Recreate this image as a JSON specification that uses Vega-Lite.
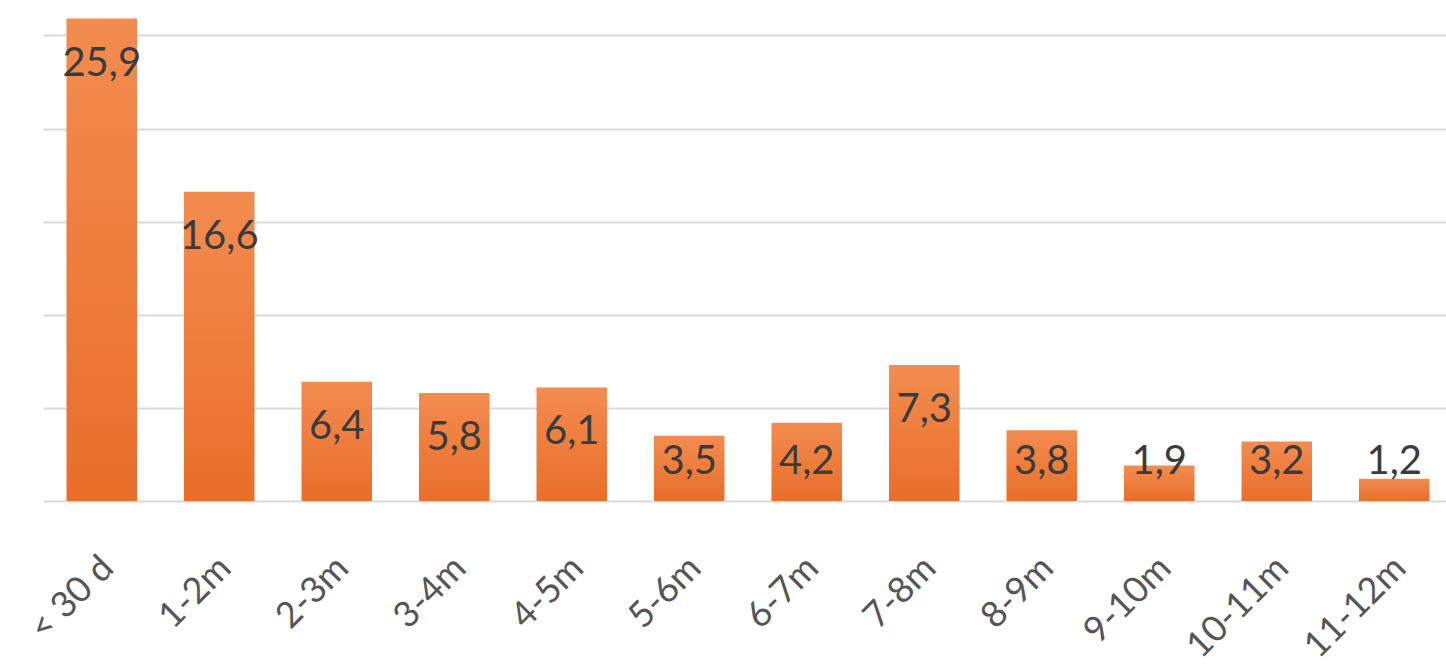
{
  "$schema": "https://vega.github.io/schema/vega-lite/v6.json",
  "autosize": "none",
  "width": 1410,
  "height": 501,
  "padding": {"left": 43, "top": 0, "right": 0, "bottom": 167},
  "background": "#ffffff",
  "config": {
    "view": {"stroke": null},
    "font": "Lato",
    "locale": {"number": {"decimal": ",", "thousands": ".", "grouping": [3], "currency": ["", " €"]}}
  },
  "data": {
    "values": [
      {"period": "< 30 d", "value": 25.9},
      {"period": "1-2m", "value": 16.6},
      {"period": "2-3m", "value": 6.4},
      {"period": "3-4m", "value": 5.8},
      {"period": "4-5m", "value": 6.1},
      {"period": "5-6m", "value": 3.5},
      {"period": "6-7m", "value": 4.2},
      {"period": "7-8m", "value": 7.3},
      {"period": "8-9m", "value": 3.8},
      {"period": "9-10m", "value": 1.9},
      {"period": "10-11m", "value": 3.2},
      {"period": "11-12m", "value": 1.2}
    ]
  },
  "encoding": {
    "x": {
      "field": "period",
      "type": "nominal",
      "sort": null,
      "scale": {"paddingInner": 0.4, "paddingOuter": 0.2},
      "axis": {
        "title": null,
        "labelAngle": -45,
        "labelFontSize": 36,
        "labelColor": "#555555",
        "labelPadding": 49,
        "labelOffset": -6,
        "labelBound": false,
        "labelOverlap": false,
        "ticks": false,
        "domain": false,
        "grid": false
      }
    }
  },
  "layer": [
    {
      "mark": {
        "type": "bar",
        "color": {
          "gradient": "linear",
          "x1": 0, "y1": 0, "x2": 0, "y2": 1,
          "stops": [
            {"offset": 0, "color": "#F38C50"},
            {"offset": 1, "color": "#E96E2A"}
          ]
        }
      },
      "encoding": {
        "y": {
          "field": "value",
          "type": "quantitative",
          "scale": {"domain": [0, 26.9], "nice": false},
          "axis": {
            "title": null,
            "labels": false,
            "ticks": false,
            "domain": false,
            "grid": true,
            "gridColor": "#d9d9d9",
            "gridWidth": 2,
            "values": [0, 5, 10, 15, 20, 25]
          }
        }
      }
    },
    {
      "transform": [{"calculate": "max(datum.value - 2.42, 2.1)", "as": "labelPos"}],
      "mark": {"type": "text", "fontSize": 40, "color": "#3b3b3b", "baseline": "middle", "align": "center"},
      "encoding": {
        "y": {"field": "labelPos", "type": "quantitative"},
        "text": {"field": "value", "type": "quantitative", "format": ".1f"}
      }
    }
  ]
}
